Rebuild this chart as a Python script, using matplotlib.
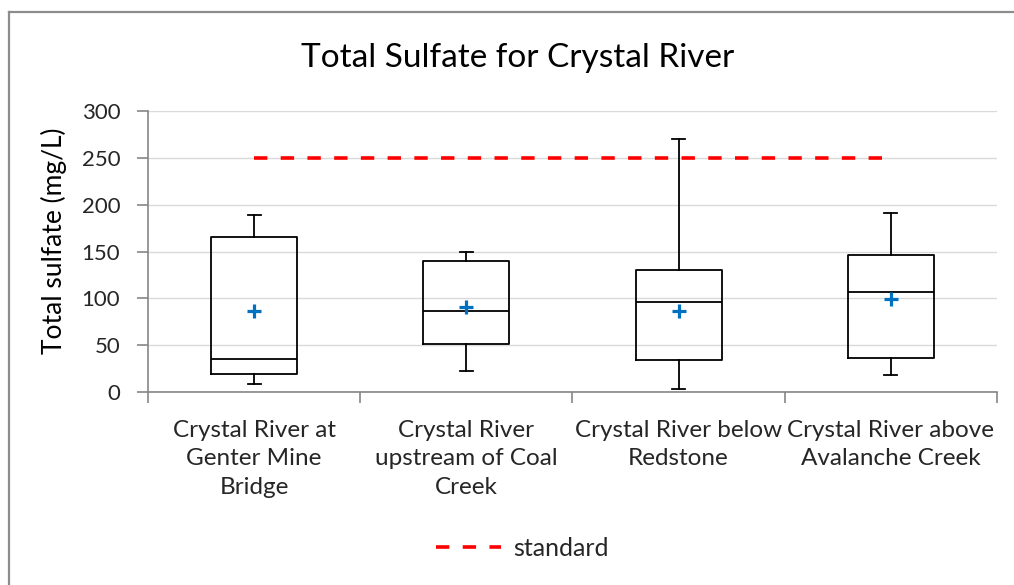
import matplotlib.pyplot as plt
from matplotlib.lines import Line2D

plt.rcParams['font.family'] = ['Lato', 'DejaVu Sans']

sites = ['Crystal River at\nGenter Mine\nBridge',
         'Crystal River\nupstream of Coal\nCreek',
         'Crystal River below\nRedstone',
         'Crystal River above\nAvalanche Creek']
whislo = [8.5, 22, 3, 18]
q1 = [19, 51, 34.5, 36]
med = [35, 86.5, 96, 107]
q3 = [165, 140, 130, 146.5]
whishi = [189, 149, 270, 191]
means = [87, 91, 87, 99]
standard = 250

stats = []
for i in range(len(sites)):
    stats.append({'whislo': whislo[i], 'q1': q1[i], 'med': med[i],
                  'q3': q3[i], 'whishi': whishi[i], 'mean': means[i],
                  'fliers': [], 'label': sites[i]})

W, H = 1014, 585
fig = plt.figure(figsize=(W / 100, H / 100), dpi=100)
ax = fig.add_axes([148 / W, 1 - 392 / H, (997 - 148) / W, (392 - 111) / H])

# chart area frame, cut off on the right and bottom like the original
frame = dict(color='#8c8c8c', linewidth=1.6, transform=fig.transFigure)
fig.add_artist(Line2D([9 / W, 9 / W], [0, 1 - 12 / H], **frame))
fig.add_artist(Line2D([9 / W, 1], [1 - 12 / H, 1 - 12 / H], **frame))

pos = list(range(1, len(sites) + 1))
line = dict(color='black', linewidth=1.3)
ax.bxp(stats, positions=pos, widths=0.405, capwidths=0.062, showmeans=True,
       showfliers=False, boxprops=line, whiskerprops=line, capprops=line,
       medianprops=line,
       meanprops=dict(marker='+', markersize=10, markeredgewidth=2.3,
                      markeredgecolor='#0070C0', linestyle='none'))

ax.plot([pos[0], pos[-1]], [standard, standard], color='#ff0000', linewidth=2.6,
        linestyle=(0, (3.7, 3.7)), label='standard', zorder=1)

ax.set_xlim(0.5, len(sites) + 0.5)
ax.set_ylim(0, 300)
ax.set_yticks(range(0, 301, 50))
ax.yaxis.grid(True, color='#d9d9d9', linewidth=1)
ax.set_axisbelow(True)

ax.set_xticks([p - 0.5 for p in pos] + [pos[-1] + 0.5])
ax.set_xticklabels([])
ax.set_xticks(pos, minor=True)
ax.set_xticklabels(sites, minor=True, fontsize=17.5, color='#262626', linespacing=1.45)
ax.tick_params(axis='x', which='minor', length=0, pad=20)
ax.tick_params(axis='x', which='major', length=8, color='#868686', width=1.2)
ax.tick_params(axis='y', length=8, color='#868686', width=1.2, pad=12,
               labelsize=16, labelcolor='#262626')

for s in ['top', 'right']:
    ax.spines[s].set_visible(False)
for s in ['left', 'bottom']:
    ax.spines[s].set_color('#868686')
    ax.spines[s].set_linewidth(1.2)

fig.text(54 / W, 1 - 241 / H, 'Total sulfate (mg/L)', rotation=90,
         fontsize=19, ha='center', va='center', color='black')
fig.text(518 / W, 1 - 58 / H, 'Total Sulfate for Crystal River',
         fontsize=24, ha='center', va='center', color='black')

fig.legend(loc='center', bbox_to_anchor=(522 / W, 1 - 548 / H), frameon=False,
           fontsize=18, handlelength=2.6, handletextpad=0.5, labelcolor='#262626')

fig.savefig('out.png', dpi=100)
